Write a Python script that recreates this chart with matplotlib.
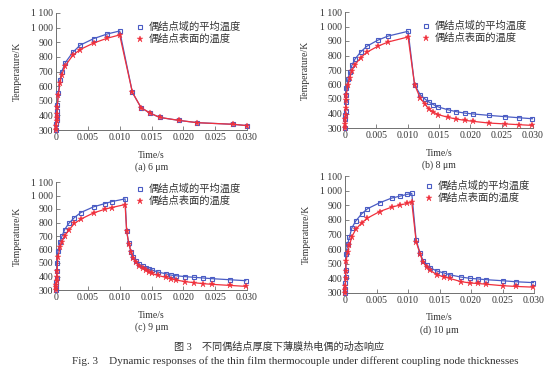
import matplotlib
matplotlib.use("Agg")
import matplotlib.pyplot as plt

plt.rcParams['font.family'] = ['Liberation Serif', 'Noto Sans CJK SC', 'DejaVu Sans']
plt.rcParams['mathtext.fontset'] = 'stix'

legend_labels = ["偶结点域的平均温度", "偶结点表面的温度"]
panel_labels = ["(a) 6 μm", "(b) 8 μm", "(c) 9 μm", "(d) 10 μm"]
x_ticks = [0, 0.005, 0.010, 0.015, 0.020, 0.025, 0.030]
x_tick_labels = ["0", "0.005", "0.010", "0.015", "0.020", "0.025", "0.030"]
y_ticks = [300, 400, 500, 600, 700, 800, 900, 1000, 1100]
y_tick_labels = ["300", "400", "500", "600", "700", "800", "900", "1 000", "1 100"]

# (a) 6 um
ta = [0, 0.00005, 0.0001, 0.00013, 0.00016, 0.0002, 0.00037, 0.00063, 0.00089, 0.00147,
      0.00262, 0.00378, 0.00593, 0.00808, 0.0100, 0.0120, 0.01337, 0.01484, 0.0163,
      0.01925, 0.0222, 0.0278, 0.0300]
a_avg = [300, 340, 370, 400, 430, 470, 555, 641, 698, 761, 830, 880, 925, 957, 977,
         557, 452, 414, 386, 366, 350, 339, 330]
a_surf = [300, 330, 360, 385, 410, 460, 540, 620, 675, 740, 810, 850, 895, 928, 950,
          557, 452, 414, 386, 366, 350, 339, 330]

# (b) 8 um
tb = [0, 0.00003, 0.00006, 0.0001, 0.00013, 0.00017, 0.0002, 0.00048, 0.00075, 0.0011,
      0.0016, 0.0025, 0.00346, 0.0052, 0.00687, 0.01007, 0.0111, 0.0120, 0.0127, 0.0134,
      0.0141, 0.0149, 0.0164, 0.0177, 0.0191, 0.0204, 0.0230, 0.0256, 0.0277, 0.0299]
b_avg = [300, 360, 390, 420, 480, 530, 576, 640, 684, 732, 776, 824, 863, 905, 934, 967,
         599, 530, 502, 479, 461, 445, 426, 413, 403, 397, 387, 378, 371, 364]
b_surf = [300, 330, 360, 390, 440, 490, 530, 594, 645, 695, 737, 785, 822, 863, 893, 928,
          599, 507, 468, 431, 410, 392, 374, 362, 353, 346, 334, 328, 323, 318]

# (c) 9 um
tc = [0, 0.00003, 0.00006, 0.0001, 0.00013, 0.00017, 0.0003, 0.00063, 0.00094, 0.00136,
      0.0020, 0.0029, 0.0039, 0.0059, 0.00766, 0.00876, 0.01085, 0.0111, 0.01143, 0.0118,
      0.01217, 0.0125, 0.0131, 0.0136, 0.0141, 0.0146, 0.0150, 0.0160, 0.0172, 0.0180,
      0.0188, 0.0203, 0.0217, 0.0231, 0.0245, 0.0273, 0.0298]
c_avg = [300, 330, 360, 390, 440, 500, 590, 657, 699, 748, 793, 837, 874, 916, 940, 955,
         975, 736, 645, 583, 541, 517, 490, 475, 465, 455, 450, 433, 421, 411, 406, 399,
         394, 389, 384, 376, 369]
c_surf = [300, 320, 340, 370, 400, 440, 541, 615, 657, 701, 743, 793, 825, 871, 898, 911,
          933, 736, 640, 578, 534, 507, 477, 460, 448, 435, 423, 408, 394, 384, 374, 362,
          354, 347, 342, 334, 327]

# (d) 10 um
td = [0, 0.00003, 0.00006, 0.0001, 0.00013, 0.00016, 0.00042, 0.0007, 0.0011, 0.0017,
      0.00266, 0.00356, 0.0055, 0.0074, 0.0088, 0.0098, 0.0106, 0.0113, 0.0119, 0.0124,
      0.0130, 0.0135, 0.0146, 0.0157, 0.0166, 0.0184, 0.0199, 0.0211, 0.0224, 0.0250,
      0.0271, 0.0299]
d_avg = [300, 330, 370, 410, 460, 569, 633, 683, 746, 792, 842, 876, 917, 949, 963, 974,
         981, 660, 576, 519, 489, 473, 450, 437, 425, 409, 400, 396, 391, 384, 377, 371]
d_surf = [300, 320, 350, 400, 450, 516, 578, 625, 685, 735, 780, 812, 857, 887, 902, 912,
          920, 650, 568, 510, 478, 455, 425, 410, 400, 378, 368, 365, 360, 350, 345, 340]

panels = [(ta, a_avg, a_surf), (tb, b_avg, b_surf), (tc, c_avg, c_surf), (td, d_avg, d_surf)]

W, H = 554, 376
fig = plt.figure(figsize=(W / 100, H / 100), dpi=100)
# (left, right, top, bottom) in pixels
boxes = [(56, 247, 13, 130), (345, 533, 12, 128), (56, 247, 182, 290), (345, 534, 176, 293)]
legend_pos = [(135, 29), (421, 28), (135, 191), (424, 188)]
ylabel_x = [17, 305, 17, 306]

blue = '#4a5cc4'
red = '#f0303c'
spine_c = '#707070'
txt_c = '#333333'
fs = 7.0

for i, ((l, r, t, b), (tt, avg, surf)) in enumerate(zip(boxes, panels)):
    ax = fig.add_axes([l / W, 1 - b / H, (r - l) / W, (b - t) / H])
    ax.plot(tt, avg, color=blue, lw=0.9, marker='s', ms=3.4, mfc='none', mec=blue, mew=0.8,
            label=legend_labels[0], clip_on=False, zorder=3)
    ax.plot(tt, surf, color=red, lw=0.9, marker='*', ms=4.6, mfc=red, mec=red, mew=0.3,
            label=legend_labels[1], clip_on=False, zorder=4)
    ax.set_xlim(0, 0.030)
    ax.set_ylim(300, 1100)
    ax.set_xticks(x_ticks)
    ax.set_xticklabels(x_tick_labels)
    ax.set_yticks(y_ticks)
    ax.set_yticklabels(y_tick_labels)
    for s in ['top', 'right']:
        ax.spines[s].set_visible(False)
    for s in ['left', 'bottom']:
        ax.spines[s].set_color(spine_c)
        ax.spines[s].set_linewidth(0.7)
    ax.tick_params(direction='in', length=3, width=0.6, color=spine_c, labelsize=fs,
                   pad=2, labelcolor=txt_c)
    ax.patch.set_alpha(0)
    cx = (l + r) / 2 / W
    fig.text(cx, 1 - (b + 25) / H, "Time/s", ha='center', va='center', fontsize=fs, color=txt_c)
    fig.text(cx, 1 - (b + 37) / H, panel_labels[i], ha='center', va='center', fontsize=fs, color=txt_c)
    fig.text(ylabel_x[i] / W, 1 - (t + b) / 2 / H, "Temperature/K", ha='center', va='center',
             rotation=90, fontsize=fs, color=txt_c)
    lx, ly = legend_pos[i]
    leg = ax.legend(loc='upper left', bbox_to_anchor=(lx / W, 1 - (ly - 7) / H),
                    bbox_transform=fig.transFigure, frameon=False, fontsize=7.4,
                    handlelength=0.9, handletextpad=0.4, labelspacing=0.2,
                    borderpad=0, borderaxespad=0)
    for line in leg.get_lines():
        line.set_linestyle('none')
    for txt in leg.get_texts():
        txt.set_color(txt_c)

fig.text(279 / W, 1 - 347 / H, "图 3　不同偶结点厚度下薄膜热电偶的动态响应", ha='center', va='center',
         fontsize=7.3, color=txt_c)
fig.text(295 / W, 1 - 361 / H,
         "Fig. 3　Dynamic responses of the thin film thermocouple under different coupling node thicknesses",
         ha='center', va='center', fontsize=8.0, color=txt_c)

fig.savefig("out.png", dpi=100)
